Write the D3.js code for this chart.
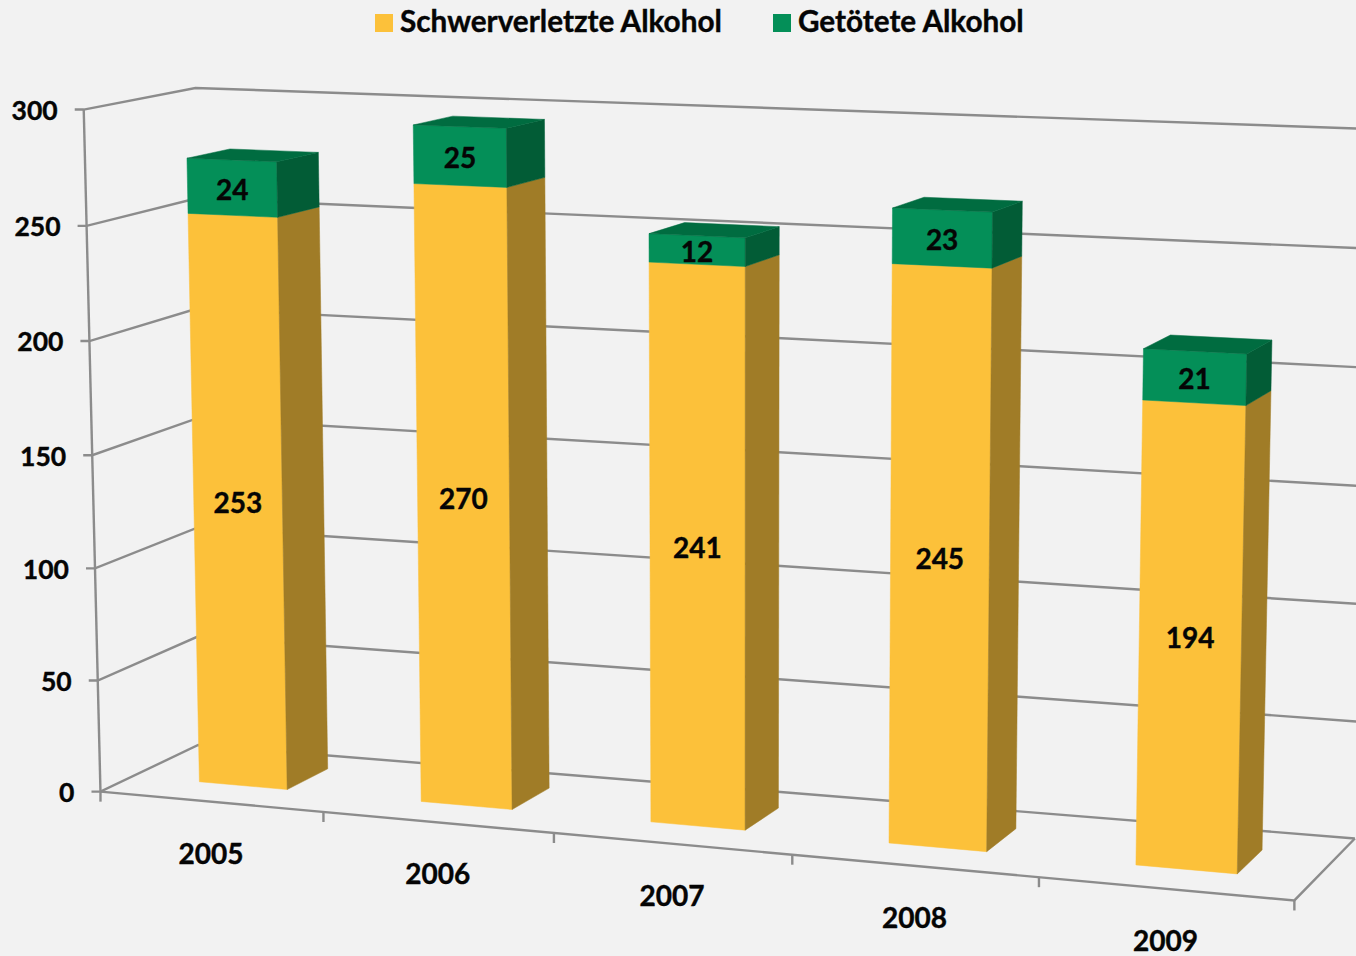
<!DOCTYPE html>
<html lang="de">
<head>
<meta charset="utf-8">
<title>Alkoholunfaelle 2005-2009</title>
<script src="https://d3js.org/d3.v7.min.js"></script>
<style>
body { margin: 0; background: #f2f2f2; }
text { font-family: Lato, sans-serif; font-weight: 700; fill: #050505; stroke: #050505; stroke-width: 0.4px; }
</style>
</head>
<body>
<script>
var years = ["2005", "2006", "2007", "2008", "2009"];
var schwerverletzte = [253, 270, 241, 245, 194];
var getoetete = [24, 25, 12, 23, 21];

var w = 1356, h = 956;

// perspective of the picture, fitted against its corners and ticks
var frontWall = [217.7067,-18.98789,100.4745,7.101682,-685.0246,791.6539,-0.01628012,-0.02681427];
var backWall = [211.0839,-5.051953,198.1503,6.163140,-658.0938,744.9870,-0.01495319,-0.01201385];
var barCam = [216.3865,-18.14925,101.5280,101.6502,5.936372,-684.9422,-13.80855,791.3372,-0.01739054,-0.02453890,0.04056656];

function wall(c, x, v) {
	var d = c[6]*x + c[7]*v + 1;
	return [(c[0]*x + c[1]*v + c[2]) / d, (c[3]*x + c[4]*v + c[5]) / d];
}
function pb(x, v, z) {
	var c = barCam, d = c[8]*x + c[9]*v + c[10]*z + 1;
	return [(c[0]*x + c[1]*v + c[2]*z + c[3]) / d, (c[4]*x + c[5]*v + c[6]*z + c[7]) / d];
}

var xScale = d3.scaleBand().domain(years).range([0, 5]).paddingInner(0.6).paddingOuter(0.3);
var yScale = d3.scaleLinear().domain([0, 300]).range([0, 1]);
var zFront = 0.34, zBack = 0.8;

var svg = d3.select("body").append("svg").attr("width", w).attr("height", h).style("display", "block");
var line = d3.line();
var gridColor = "#8c8c8c";

function frameLine(pts) {
	svg.append("path").attr("d", line(pts)).attr("fill", "none").attr("stroke", gridColor).attr("stroke-width", 2.4);
}

yScale.ticks(6).forEach(function(t) {
	var v = yScale(t), p = wall(frontWall, 0, v);
	frameLine([[p[0] - 9, p[1]], p, wall(backWall, 0, v), wall(backWall, 5, v)]);
	svg.append("text").attr("x", p[0] - 26).attr("y", p[1] + 1).attr("dy", "0.35em")
		.attr("text-anchor", "end").attr("font-size", 26.5).text(t);
});
frameLine([wall(frontWall, 0, 0), wall(frontWall, 0, 1)]);
frameLine([wall(frontWall, 0, 0), wall(frontWall, 5, 0), wall(backWall, 5, 0)]);
d3.range(0, 6).forEach(function(i) {
	var p = wall(frontWall, i, 0);
	frameLine([p, [p[0], p[1] + 10]]);
});

function box(i, from, to, front, side, top) {
	var x0 = xScale(years[i]), x1 = x0 + xScale.bandwidth();
	var a = yScale(from), b = yScale(to);
	function face(pts, fill) {
		svg.append("path").attr("d", line(pts.map(function(q) { return pb(q[0], q[1], q[2]); })) + "Z")
			.attr("fill", fill).attr("stroke", fill).attr("stroke-width", 0.5);
	}
	face([[x0,a,zFront],[x1,a,zFront],[x1,b,zFront],[x0,b,zFront]], front);
	face([[x1,a,zFront],[x1,a,zBack],[x1,b,zBack],[x1,b,zFront]], side);
	if (top) face([[x0,b,zFront],[x1,b,zFront],[x1,b,zBack],[x0,b,zBack]], top);
}

years.forEach(function(y, i) {
	var s = schwerverletzte[i], g = getoetete[i];
	box(i, 0, s, "#fcc13a", "#a07c27");
	box(i, s, s + g, "#048f58", "#025c36", "#006c40");
	var xm = xScale(y) + xScale.bandwidth() / 2;
	[[0, s, 0], [s, s + g, 2.5]].forEach(function(r) {
		var p = pb(xm, yScale((r[0] + r[1]) / 2), zFront);
		svg.append("text").attr("x", p[0]).attr("y", p[1] + r[2]).attr("dy", "0.35em")
			.attr("text-anchor", "middle").attr("font-size", 28).text(r[1] - r[0]);
	});
	var q = wall(frontWall, xm, 0);
	svg.append("text").attr("x", q[0]).attr("y", q[1] + 52).attr("dy", "0.35em")
		.attr("text-anchor", "middle").attr("font-size", 28).text(y);
});

var legend = [["Schwerverletzte Alkohol", "#fcc13a", 375], ["Getötete Alkohol", "#048f58", 773]];
legend.forEach(function(l) {
	svg.append("rect").attr("x", l[2]).attr("y", 14).attr("width", 18).attr("height", 18).attr("fill", l[1]);
	svg.append("text").attr("x", l[2] + 25).attr("y", 22).attr("dy", "0.35em").attr("font-size", 29.7).text(l[0]);
});
</script>
</body>
</html>
